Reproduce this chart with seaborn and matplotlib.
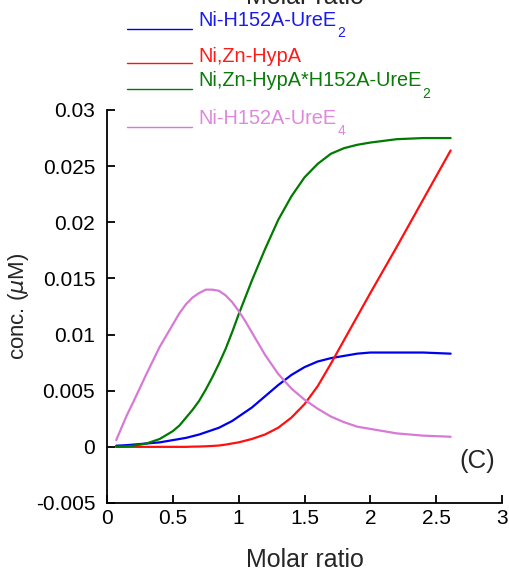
import matplotlib
matplotlib.use("Agg")
import matplotlib.pyplot as plt
import seaborn as sns
import pandas as pd
from matplotlib.lines import Line2D

# ---- data ----
molar_ratio = [0.07, 0.15, 0.2, 0.3, 0.4, 0.5, 0.55, 0.6, 0.65, 0.7, 0.75, 0.8, 0.85,
               0.9, 0.95, 1.0, 1.05, 1.1, 1.15, 1.2, 1.3, 1.4, 1.5, 1.6, 1.7, 1.8,
               1.9, 2.0, 2.2, 2.4, 2.61]
ni_ureE2 = [0.0001, 0.00015, 0.0002, 0.0003, 0.0004, 0.0006, 0.0007, 0.0008, 0.00095,
            0.0011, 0.0013, 0.0015, 0.0017, 0.0020, 0.0023, 0.0027, 0.0031, 0.0035,
            0.0040, 0.0045, 0.0055, 0.0064, 0.0071, 0.0076, 0.0079, 0.0081, 0.0083,
            0.0084, 0.0084, 0.0084, 0.0083]
nizn_hypA = [0.0, 0.0, 0.0, 0.0, 0.0, 0.0, 0.0, 0.0, 0.00002, 0.00003, 0.00005,
             0.00008, 0.00012, 0.0002, 0.0003, 0.0004, 0.00055, 0.0007, 0.0009,
             0.0011, 0.0017, 0.0026, 0.0038, 0.0054, 0.0074, 0.0095, 0.0116, 0.0137,
             0.0178, 0.0220, 0.0264]
complex_ = [0.0, 0.00005, 0.0001, 0.0003, 0.0007, 0.0014, 0.0019, 0.0026, 0.0033,
            0.0041, 0.0051, 0.0062, 0.0074, 0.0087, 0.0102, 0.0118, 0.0133, 0.0148,
            0.0162, 0.0176, 0.0202, 0.0223, 0.0240, 0.0252, 0.0261, 0.0266, 0.0269,
            0.0271, 0.0274, 0.0275, 0.0275]
ni_ureE4 = [0.0006, 0.0028, 0.0040, 0.0065, 0.0089, 0.0109, 0.0119, 0.0127, 0.0133,
            0.0137, 0.0140, 0.0140, 0.0139, 0.0135, 0.0129, 0.0121, 0.0112, 0.0102,
            0.0092, 0.0082, 0.0065, 0.0052, 0.0042, 0.0034, 0.0027, 0.0022, 0.0018,
            0.0016, 0.0012, 0.0010, 0.0009]

series_names = ["Ni-H152A-UreE2", "Ni,Zn-HypA", "Ni,Zn-HypA*H152A-UreE2",
                "Ni-H152A-UreE4"]
legend_main = ["Ni-H152A-UreE", "Ni,Zn-HypA", "Ni,Zn-HypA*H152A-UreE", "Ni-H152A-UreE"]
legend_sub = ["2", "", "2", "4"]
series_values = [ni_ureE2, nizn_hypA, complex_, ni_ureE4]
colors = ["#0000ee", "#ff1010", "#007a00", "#d67ad6"]
text_colors = ["#1a1aee", "#ff1a1a", "#0a7a0a", "#dd88dd"]

x_ticks = [0, 0.5, 1, 1.5, 2, 2.5, 3]
x_tick_labels = ["0", "0.5", "1", "1.5", "2", "2.5", "3"]
y_ticks = [-0.005, 0, 0.005, 0.01, 0.015, 0.02, 0.025, 0.03]
y_tick_labels = ["-0.005", "0", "0.005", "0.01", "0.015", "0.02", "0.025", "0.03"]

rows = []
for name, vals in zip(series_names, series_values):
    for xv, yv in zip(molar_ratio, vals):
        rows.append({"x": xv, "y": yv, "series": name})
df = pd.DataFrame(rows)

sns.set_style("ticks")
plt.rcParams["font.family"] = ["Liberation Sans", "DejaVu Sans"]
plt.rcParams["mathtext.default"] = "regular"

W, H = 509, 571
fig = plt.figure(figsize=(W / 100, H / 100), dpi=100)
ax = fig.add_axes([107 / W, 1 - 503 / H, (502 - 107) / W, (503 - 110) / H])

sns.lineplot(data=df, x="x", y="y", hue="series", hue_order=series_names,
             palette=colors, linewidth=1.6, ax=ax, legend=False, sort=False)

ax.set_xlim(0, 3)
ax.set_ylim(-0.005, 0.03)
ax.set_xticks(x_ticks)
ax.set_xticklabels(x_tick_labels)
ax.set_yticks(y_ticks)
ax.set_yticklabels(y_tick_labels)
ax.tick_params(direction="in", length=5.5, width=1.3, labelsize=15, colors="black")
ax.tick_params(axis="y", pad=8.5)
ax.tick_params(axis="x", pad=4)
for s in ["top", "right"]:
    ax.spines[s].set_visible(False)
for s in ["left", "bottom"]:
    ax.spines[s].set_linewidth(1.3)
    ax.spines[s].set_color("black")

ax.set_xlabel("Molar ratio", fontsize=18)
ax.xaxis.label.set_va("baseline")
ax.xaxis.set_label_coords(0.5, -(567 - 503) / 393)
ax.set_ylabel(r"conc. ($\mathit{\mu}$M)", fontsize=16)
ax.yaxis.label.set_va("center")
ax.yaxis.set_label_coords(-(107 - 19) / 395, 0.5)

ax.text(2.81, -0.00128, "(C)", fontsize=18.5, ha="center", va="center")

# clipped title at the very top of the figure
fig.text(305 / W, 1 - 3.5 / H, "Molar ratio", fontsize=18, ha="center",
         va="baseline")

# manual legend above the axes
line_y = [29, 63, 89, 127]
base_y = [26, 62.5, 86, 124]
sub_y = [37, 0, 98, 135]
renderer = fig.canvas.get_renderer()
for main, sub, c, tc, ly, by, sy in zip(legend_main, legend_sub, colors, text_colors,
                                        line_y, base_y, sub_y):
    fig.add_artist(Line2D([127 / W, 192 / W], [1 - ly / H, 1 - ly / H],
                          color=c, linewidth=1.0, transform=fig.transFigure))
    t = fig.text(198 / W, 1 - by / H, main, color=tc, fontsize=14.3, ha="left",
                 va="baseline")
    if sub:
        bb = t.get_window_extent(renderer=renderer)
        fig.text(bb.x1 / W + 1 / W, 1 - sy / H, sub, color=tc, fontsize=10,
                 ha="left", va="baseline")

fig.savefig("out.png", dpi=100)
